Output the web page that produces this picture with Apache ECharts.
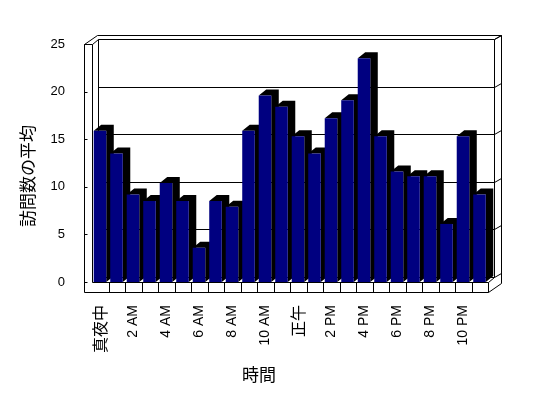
<!DOCTYPE html>
<html>
<head>
<meta charset="utf-8">
<script src="https://cdn.jsdelivr.net/npm/echarts@6/dist/echarts.min.js"></script>
<style>
  html, body { margin: 0; padding: 0; background: #fff; }
  #main { width: 548px; height: 398px; }
</style>
</head>
<body>
<div id="main"></div>
<script>
// 時間帯ごとの訪問数の平均
const hours = [
  '真夜中', '1 AM', '2 AM', '3 AM', '4 AM', '5 AM', '6 AM', '7 AM', '8 AM', '9 AM', '10 AM', '11 AM',
  '正午', '1 PM', '2 PM', '3 PM', '4 PM', '5 PM', '6 PM', '7 PM', '8 PM', '9 PM', '10 PM', '11 PM'
];
const visits = [
  15.9, 13.5, 9.2, 8.5, 10.4, 8.5, 3.6, 8.5, 7.9, 15.9, 19.6, 18.4,
  15.3, 13.5, 17.2, 19.1, 23.5, 15.3, 11.6, 11.1, 11.1, 6.1, 15.3, 9.2
];
const yTicks = [0, 5, 10, 15, 20, 25];

const LATIN = 'Liberation Sans';
const CJK = 'Noto Sans CJK JP';
const NAVY = '#000080';

const chart = echarts.init(document.getElementById('main'));

// 3D風の棒（前面は紺、上面と側面は黒）
function renderBar(params, api) {
  const top = api.coord([api.value(0), api.value(1)]);
  const base = api.coord([api.value(0), 0]);
  const band = api.size([1, 0])[0];
  const x1 = top[0] - band * 0.395;
  const x2 = top[0] + band * 0.365;
  const yt = top[1], yb = base[1];
  const dx = 7.5, dy = -6;
  return {
    type: 'group',
    children: [
      {
        type: 'polygon',
        shape: { points: [[x1, yt], [x1 + dx, yt + dy], [x2 + dx, yt + dy], [x2 + dx, yb + dy], [x2, yb], [x2, yt]] },
        style: { fill: '#000' }
      },
      {
        type: 'rect',
        shape: { x: x1, y: yt, width: x2 - x1, height: yb - yt },
        style: { fill: NAVY }
      }
    ]
  };
}

chart.setOption({
  animation: false,
  backgroundColor: '#fff',
  grid: { left: 92, right: 60, top: 44, bottom: 116 },
  xAxis: {
    type: 'category',
    data: hours,
    name: '時間',
    nameLocation: 'middle',
    nameGap: 84,
    nameTextStyle: { fontFamily: CJK, fontSize: 17, color: '#000', padding: [0, 62, 0, 0] },
    axisLine: { show: false },
    axisTick: { show: false },
    axisLabel: {
      interval: 1,
      rotate: 90,
      margin: 23,
      color: '#000',
      formatter: v => /[0-9]/.test(v) ? '{a|' + v + '}' : '{j|' + v + '}',
      rich: {
        a: { fontFamily: LATIN, fontSize: 14, color: '#000' },
        j: { fontFamily: CJK, fontSize: 16, color: '#000' }
      }
    }
  },
  yAxis: {
    type: 'value',
    min: 0,
    max: 25,
    interval: 5,
    name: '訪問数の平均',
    nameLocation: 'middle',
    nameRotate: 90,
    nameGap: 56,
    nameTextStyle: { fontFamily: CJK, fontSize: 17, color: '#000', padding: [0, 26, 0, 0] },
    axisLine: { show: false },
    axisTick: { show: false },
    splitLine: { show: false },
    axisLabel: { fontFamily: LATIN, fontSize: 13, color: '#000', margin: 27 }
  },
  series: [{
    type: 'custom',
    renderItem: renderBar,
    data: visits.map((v, i) => [i, v]),
    encode: { x: 0, y: 1 },
    z: 3
  }]
});

// 枠（左壁・奥の壁・床）をグリッドの座標から描く
function px(i, v) { return chart.convertToPixel({ gridIndex: 0 }, [i, v]); }
const band = px(1, 0)[0] - px(0, 0)[0];
const xL = px(0, 0)[0] - band / 2;
const xR = px(hours.length - 1, 0)[0] + band / 2;
const yB = px(0, 0)[1];
const yT = px(0, 25)[1];
const DX = 6, DY = -5;      // 奥の壁のずれ
const OX = 13, OY = -9;     // 外側の縁
const WL = 8, FL = 10;      // 左壁と床の厚さ

const lines = [];
function seg(a, b) { lines.push([a, b]); }

// 左壁
seg([xL - WL, yT], [xL - WL, yB + FL]);
seg([xL, yT], [xL, yB]);
seg([xL - WL, yT], [xL, yT]);
seg([xL - WL, yT], [xL - WL + OX, yT + OY]);
seg([xL, yT], [xL + DX, yT + DY]);
// 奥の壁
seg([xL - WL + OX, yT + OY], [xR + OX, yT + OY]);
seg([xL + DX, yT + DY], [xL + DX, yB + DY]);
seg([xR + DX, yT + DY], [xR + DX, yB + DY]);
seg([xR + OX, yT + OY], [xR + OX, yB + FL + OY]);
seg([xR + DX, yT + DY], [xR + OX, yT + OY]);
// 床
seg([xL - WL, yB + FL], [xR, yB + FL]);
seg([xL, yB], [xR, yB]);
seg([xR, yB], [xR, yB + FL]);
seg([xR, yB], [xR + DX, yB + DY]);
seg([xR, yB + FL], [xR + OX, yB + FL + OY]);
// 目盛線
yTicks.forEach(v => {
  const y = px(0, v)[1];
  seg([xL + DX, y + DY], [xR + DX, y + DY]);
  seg([xR + DX, y + DY], [xR + OX, y + OY]);
  seg([xL - WL, y], [xL - WL + 3, y]);
});
// 項目の区切り
for (let i = 1; i < hours.length; i++) {
  const x = xL + band * i;
  seg([x, yB], [x, yB + FL]);
}

chart.setOption({
  graphic: lines.map(l => ({
    type: 'line',
    z: 1,
    silent: true,
    shape: { x1: Math.round(l[0][0]) + 0.5, y1: Math.round(l[0][1]) + 0.5, x2: Math.round(l[1][0]) + 0.5, y2: Math.round(l[1][1]) + 0.5 },
    style: { stroke: '#000', lineWidth: 1 }
  }))
});
</script>
</body>
</html>
